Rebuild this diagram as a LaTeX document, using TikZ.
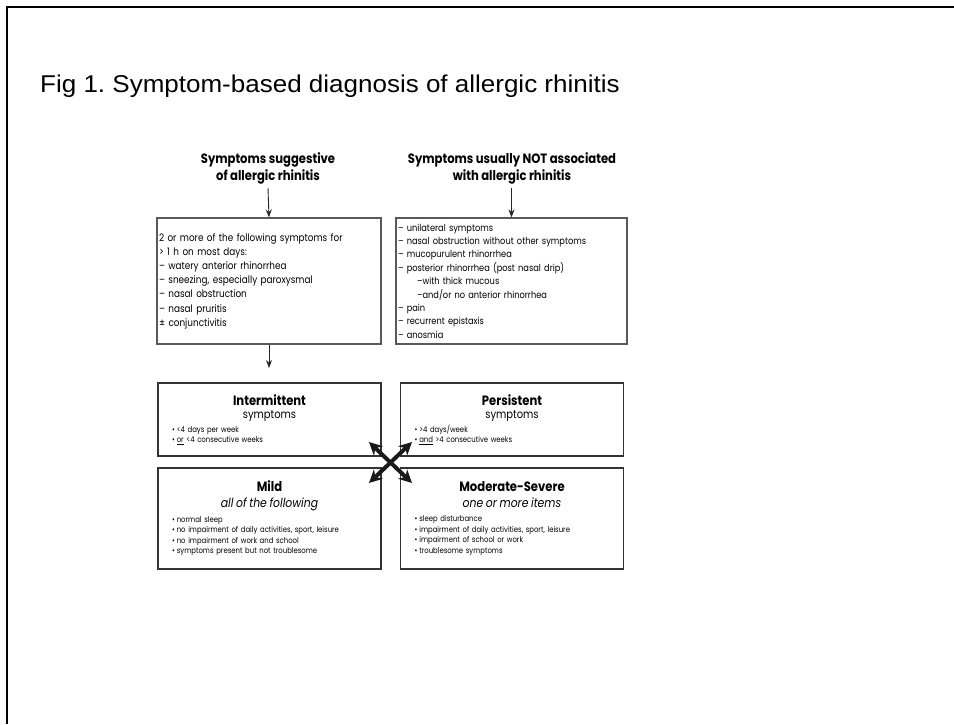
\documentclass[tikz,border=0pt]{standalone}
\usepackage{fontspec}
\usetikzlibrary{arrows.meta}
\setmainfont{Liberation Sans}
\newfontfamily\titlefont[FakeStretch=1.07]{Liberation Sans}
\newfontfamily\fut[FakeStretch=0.86]{Poppins}
\newcommand{\blt}{\hspace*{14pt}\textbullet\hspace{2pt}}
\frenchspacing
\begin{document}
\begin{tikzpicture}[x=1pt,y=-1pt,
  hdr/.style={align=center,font=\fut\fontsize{13.5}{17}\selectfont\bfseries,inner sep=0pt},
  listbox/.style={draw=black!65,line width=1.2pt,align=left,inner xsep=2pt,inner ysep=0pt,
    font=\fut\fontsize{10.3}{14.2}\selectfont},
  classbox/.style={draw=black!80,line width=1.8pt,align=left,inner xsep=0pt,inner ysep=0pt,
    text width=223pt,font=\fut\fontsize{8}{10.6}\selectfont},
  down/.style={-{Stealth[length=8pt,width=6pt]},line width=0.9pt,black!85},
  twoway/.style={{Stealth[length=13pt,width=13pt]}-{Stealth[length=13pt,width=13pt]},line width=4pt,black!90}
]
\useasboundingbox (0,0) rectangle (954,724);

% page frame
\draw[line width=2.6pt] (954,7) -- (7,7) -- (7,724);

% title
\node[anchor=base west,inner sep=0pt,font=\titlefont\fontsize{24.3}{28}\selectfont] (title) at (40,92)
  {Fig 1. Symptom-based diagnosis of allergic rhinitis};

% column headers
\node[hdr] (h1) at (268,168.5) {Symptoms suggestive\\of allergic rhinitis};
\node[hdr] (h2) at (512,168.5) {Symptoms usually NOT associated\\with allergic rhinitis};

% symptom lists
\node[listbox,text width=220pt,minimum height=126pt] (b1) at (269,281)
  {2 or more of the following symptoms for\\
   > 1 h on most days:\\
   – watery anterior rhinorrhea\\
   – sneezing, especially paroxysmal\\
   – nasal obstruction\\
   – nasal pruritis\\
   ± conjunctivitis};
\node[listbox,text width=227pt,minimum height=126pt,font=\fut\fontsize{9.6}{13.4}\selectfont] (b2) at (511.5,281)
  {– unilateral symptoms\\
   – nasal obstruction without other symptoms\\
   – mucopurulent rhinorrhea\\
   – posterior rhinorrhea (post nasal drip)\\
   \hspace*{19pt}–with thick mucous\\
   \hspace*{19pt}–and/or no anterior rhinorrhea\\
   – pain\\
   – recurrent epistaxis\\
   – anosmia};

\draw[down] (h1.south |- 0,188) -- (b1.north);
\draw[down] (b2.north |- 0,188) -- (b2.north);
\coordinate (b1out) at (269,368);
\draw[down] (b1.south) -- (b1out);

% classification boxes
\node[classbox,minimum height=73pt] (inter) at (269.5,419.5)
  {{\centering\fontsize{13.5}{13}\selectfont\bfseries Intermittent\\
    \mdseries\fontsize{11.6}{13}\selectfont symptoms\par}
   \vspace{3.5pt}
   \blt <4 days per week\\
   \blt \underline{or} <4 consecutive weeks};
\node[classbox,minimum height=73pt] (pers) at (512,419.5)
  {{\centering\fontsize{13.5}{13}\selectfont\bfseries Persistent\\
    \mdseries\fontsize{11.6}{13}\selectfont symptoms\par}
   \vspace{3.5pt}
   \blt >4 days/week\\
   \blt \underline{and} >4 consecutive weeks};
\node[classbox,minimum height=101pt] (mild) at (269.5,518.5)
  {{\centering\fontsize{13.5}{16}\selectfont\bfseries Mild\\
    \mdseries\itshape\fontsize{12.6}{16}\selectfont all of the following\par}
   \vspace{3.5pt}
   \blt normal sleep\\
   \blt no impairment of daily activities, sport, leisure\\
   \blt no impairment of work and school\\
   \blt symptoms present but not troublesome};
\node[classbox,minimum height=101pt] (mod) at (512,518.5)
  {{\centering\fontsize{13.5}{16}\selectfont\bfseries Moderate-Severe\\
    \mdseries\itshape\fontsize{12.6}{16}\selectfont one or more items\par}
   \vspace{3.5pt}
   \blt sleep disturbance\\
   \blt impairment of daily activities, sport, leisure\\
   \blt impairment of school or work\\
   \blt troublesome symptoms};

% crossing two-way arrows between the classes
\coordinate (xa) at (369,442);
\coordinate (xb) at (412,483);
\coordinate (xc) at (412,442);
\coordinate (xd) at (369,483);
\draw[twoway] (xa) -- (xb);
\draw[twoway] (xc) -- (xd);
\end{tikzpicture}
\end{document}
